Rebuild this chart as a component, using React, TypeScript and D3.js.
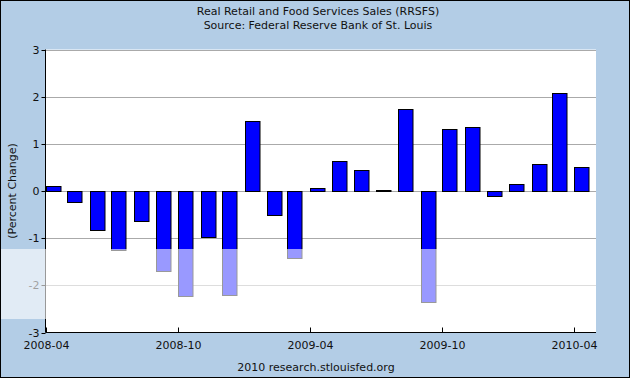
import React from "react";
import * as d3 from "d3";

const months = [
  "2008-04", "2008-05", "2008-06", "2008-07", "2008-08", "2008-09", "2008-10",
  "2008-11", "2008-12", "2009-01", "2009-02", "2009-03", "2009-04", "2009-05",
  "2009-06", "2009-07", "2009-08", "2009-09", "2009-10", "2009-11", "2009-12",
  "2010-01", "2010-02", "2010-03", "2010-04",
];
const values = [
  0.1, -0.23, -0.82, -1.26, -0.63, -1.69, -2.22, -0.97, -2.2, 1.49, -0.5, -1.41,
  0.07, 0.63, 0.44, 0.02, 1.73, -2.35, 1.32, 1.35, -0.1, 0.14, 0.58, 2.07, 0.5,
];
const yTicks = [-3, -2, -1, 0, 1, 2, 3];
const xTickLabels = ["2008-04", "2008-10", "2009-04", "2009-10", "2010-04"];
const title = "Real Retail and Food Services Sales (RRSFS)";
const subtitle = "Source: Federal Reserve Bank of St. Louis";
const footer = "2010 research.stlouisfed.org";
const yLabel = "(Percent Change)";

const W = 630;
const H = 378;
const L = 45.5;
const R = 596;
const T = 49.5;
const B = 332.5;

const parse = d3.timeParse("%Y-%m");

export default function App() {
  const x = d3
    .scaleTime()
    .domain([parse("2008-04") as Date, parse("2010-05") as Date])
    .range([L, R]);
  const y = d3.scaleLinear().domain([-3, 3]).range([B, T]);
  const barW = 14.5;
  const font = "'DejaVu Sans', Verdana, sans-serif";

  return (
    <svg
      width={W}
      height={H}
      style={{ position: "absolute", left: 0, top: 0 }}
      fontFamily={font}
    >
      <rect x={0.5} y={0.5} width={W - 1} height={H - 1} fill="#b3cde6" stroke="#000" />
      <rect x={L} y={T} width={R - L} height={B - T} fill="#fff" />
      <text x={318} y={15} textAnchor="middle" fontSize={11} fill="#111">
        {title}
      </text>
      <text x={318} y={28.5} textAnchor="middle" fontSize={11} fill="#111">
        {subtitle}
      </text>
      {yTicks.map((t) => (
        <g key={t}>
          {t !== -3 && (
            <line x1={L} x2={R} y1={Math.round(y(t)) + 0.5} y2={Math.round(y(t)) + 0.5} stroke="#aaa" />
          )}
          <line x1={L - 4} x2={L} y1={Math.round(y(t)) + 0.5} y2={Math.round(y(t)) + 0.5} stroke="#000" />
          <text x={L - 6} y={y(t) + 4} textAnchor="end" fontSize={11} fill="#111">
            {t}
          </text>
        </g>
      ))}
      {months.map((m, i) => {
        const v = values[i];
        const x0 = Math.round(x(parse(m) as Date)) + 0.5;
        const y0 = Math.round(y(Math.max(0, v))) + 0.5;
        const y1 = Math.round(y(Math.min(0, v))) + 0.5;
        return (
          <rect
            key={m}
            x={x0}
            y={y0}
            width={barW}
            height={Math.max(1, y1 - y0)}
            fill="#0000ff"
            stroke="#000"
          />
        );
      })}
      <line x1={L} x2={L} y1={T} y2={B} stroke="#000" />
      <line x1={L} x2={R} y1={B} y2={B} stroke="#000" />
      {xTickLabels.map((lab) => {
        const px = Math.round(x(parse(lab) as Date)) + 0.5;
        return (
          <g key={lab}>
            <line x1={px} x2={px} y1={B} y2={B - 5} stroke="#000" />
            <text x={px} y={348.5} textAnchor="middle" fontSize={11} fill="#111">
              {lab}
            </text>
          </g>
        );
      })}
      <text
        transform={`translate(16,${(T + B) / 2}) rotate(-90)`}
        textAnchor="middle"
        fontSize={11}
        fill="#111"
      >
        {yLabel}
      </text>
      <text x={316} y={371} textAnchor="middle" fontSize={11} fill="#111">
        {footer}
      </text>
      <rect x={1} y={249} width={R - 1} height={70} fill="#fff" opacity={0.6} />
    </svg>
  );
}
